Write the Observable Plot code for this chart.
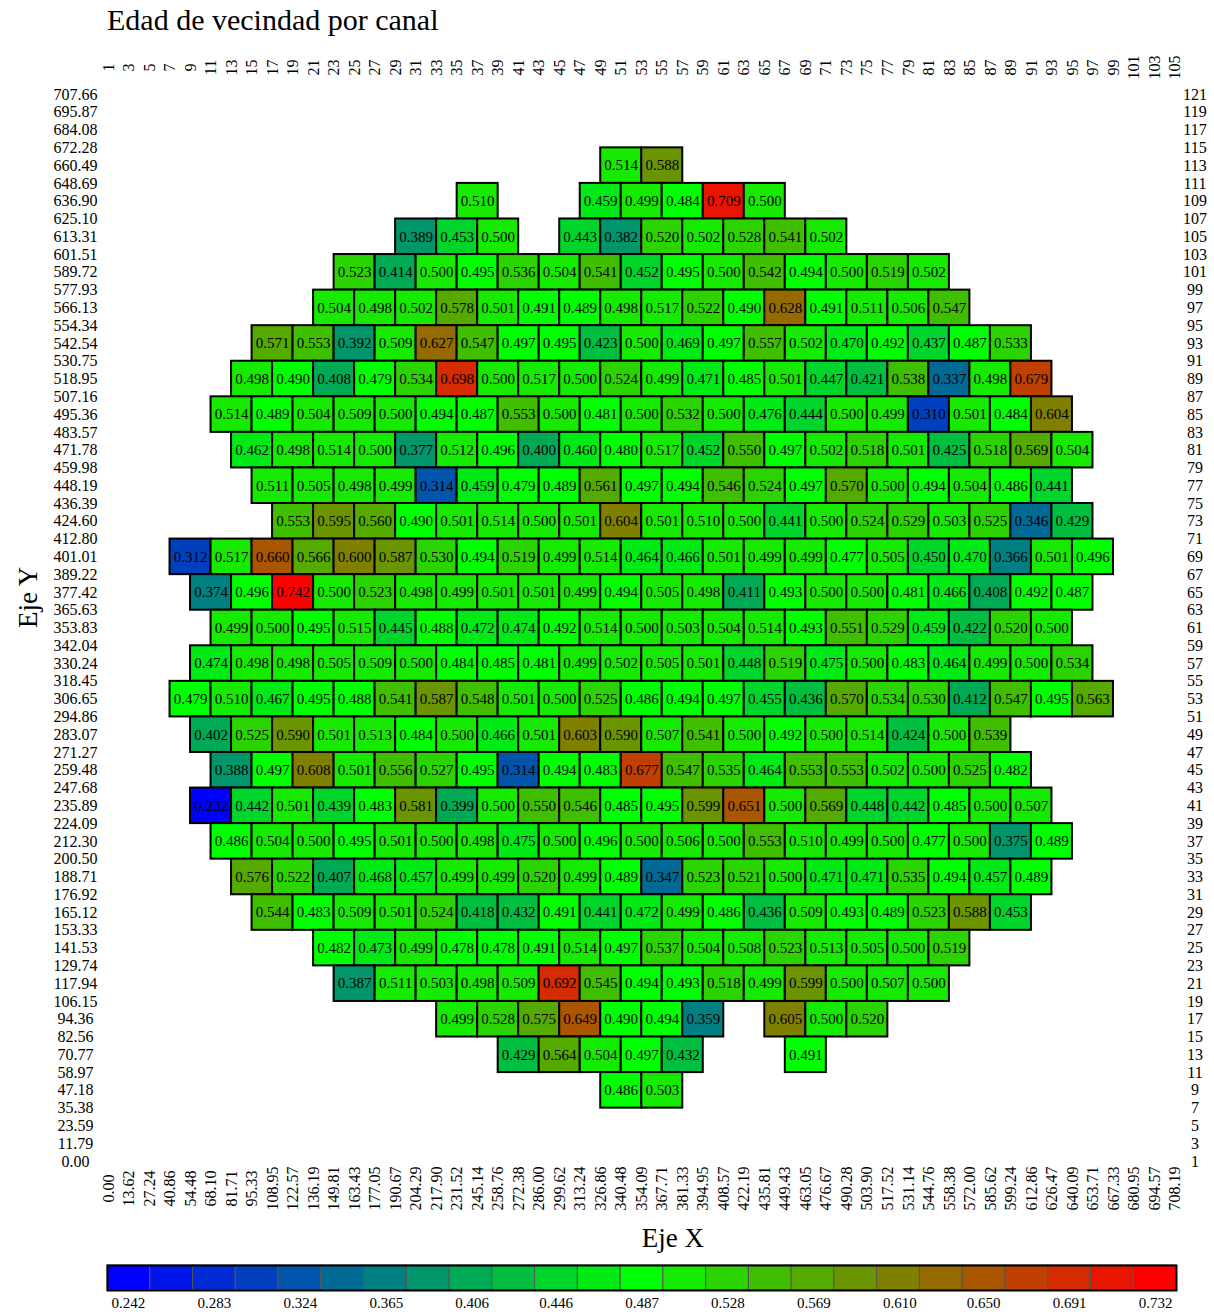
<!DOCTYPE html>
<html><head><meta charset="utf-8">
<script src="https://cdn.jsdelivr.net/npm/d3@7"></script>
<script src="https://cdn.jsdelivr.net/npm/@observablehq/plot@0.6"></script>
<style>
body{margin:0;background:#fff;font-family:"Liberation Serif","Times New Roman",serif;}
#title{height:50px;box-sizing:border-box;padding:5px 0 0 107px;font-size:30px;line-height:30px;color:#000;}
svg{display:block}
svg text{font-family:"Liberation Serif","Times New Roman",serif;}
</style></head><body>
<div id="title">Edad de vecindad por canal</div>
<div id="chart"></div>
<div id="bar"></div>
<script>
const titleText = "Edad de vecindad por canal";
const xLabel = "Eje X";
const yLabel = "Eje Y";

// top axis column indices and bottom axis positions (mm)
const colLabels = [1,3,5,7,9,11,13,15,17,19,21,23,25,27,29,31,33,35,37,39,41,43,45,47,49,51,53,55,57,59,61,63,65,67,69,71,73,75,77,79,81,83,85,87,89,91,93,95,97,99,101,103,105];
const xTickLabels = ["0.00","13.62","27.24","40.86","54.48","68.10","81.71","95.33","108.95","122.57","136.19","149.81","163.43","177.05","190.67","204.29","217.90","231.52","245.14","258.76","272.38","286.00","299.62","313.24","326.86","340.48","354.09","367.71","381.33","394.95","408.57","422.19","435.81","449.43","463.05","476.67","490.28","503.90","517.52","531.14","544.76","558.38","572.00","585.62","599.24","612.86","626.47","640.09","653.71","667.33","680.95","694.57","708.19"];
// right axis row indices and left axis positions (mm)
const rowLabels = [1,3,5,7,9,11,13,15,17,19,21,23,25,27,29,31,33,35,37,39,41,43,45,47,49,51,53,55,57,59,61,63,65,67,69,71,73,75,77,79,81,83,85,87,89,91,93,95,97,99,101,103,105,107,109,111,113,115,117,119,121];
const yTickLabels = ["0.00","11.79","23.59","35.38","47.18","58.97","70.77","82.56","94.36","106.15","117.94","129.74","141.53","153.33","165.12","176.92","188.71","200.50","212.30","224.09","235.89","247.68","259.48","271.27","283.07","294.86","306.65","318.45","330.24","342.04","353.83","365.63","377.42","389.22","401.01","412.80","424.60","436.39","448.19","459.98","471.78","483.57","495.36","507.16","518.95","530.75","542.54","554.34","566.13","577.93","589.72","601.51","613.31","625.10","636.90","648.69","660.49","672.28","684.08","695.87","707.66"];
const colorbarLabels = ["0.242","0.283","0.324","0.365","0.406","0.446","0.487","0.528","0.569","0.610","0.650","0.691","0.732"];

// channel values per row (row index on right axis, first column index on top axis); null = no channel
const rowIndex = [113,109,105,101,97,93,89,85,81,77,73,69,65,61,57,53,49,45,41,37,33,29,25,21,17,13,9];
const rowStartCol = [51,37,31,25,23,17,15,13,15,17,19,9,11,13,11,9,11,13,11,13,15,17,23,25,35,41,51];
const r113 = [0.514,0.588];
const r109 = [0.510,null,null,0.459,0.499,0.484,0.709,0.500];
const r105 = [0.389,0.453,0.500,null,0.443,0.382,0.520,0.502,0.528,0.541,0.502];
const r101 = [0.523,0.414,0.500,0.495,0.536,0.504,0.541,0.452,0.495,0.500,0.542,0.494,0.500,0.519,0.502];
const r97 = [0.504,0.498,0.502,0.578,0.501,0.491,0.489,0.498,0.517,0.522,0.490,0.628,0.491,0.511,0.506,0.547];
const r93 = [0.571,0.553,0.392,0.509,0.627,0.547,0.497,0.495,0.423,0.500,0.469,0.497,0.557,0.502,0.470,0.492,0.437,0.487,0.533];
const r89 = [0.498,0.490,0.408,0.479,0.534,0.698,0.500,0.517,0.500,0.524,0.499,0.471,0.485,0.501,0.447,0.421,0.538,0.337,0.498,0.679];
const r85 = [0.514,0.489,0.504,0.509,0.500,0.494,0.487,0.553,0.500,0.481,0.500,0.532,0.500,0.476,0.444,0.500,0.499,0.310,0.501,0.484,0.604];
const r81 = [0.462,0.498,0.514,0.500,0.377,0.512,0.496,0.400,0.460,0.480,0.517,0.452,0.550,0.497,0.502,0.518,0.501,0.425,0.518,0.569,0.504];
const r77 = [0.511,0.505,0.498,0.499,0.314,0.459,0.479,0.489,0.561,0.497,0.494,0.546,0.524,0.497,0.570,0.500,0.494,0.504,0.486,0.441];
const r73 = [0.553,0.595,0.560,0.490,0.501,0.514,0.500,0.501,0.604,0.501,0.510,0.500,0.441,0.500,0.524,0.529,0.503,0.525,0.346,0.429];
const r69 = [0.312,0.517,0.660,0.566,0.600,0.587,0.530,0.494,0.519,0.499,0.514,0.464,0.466,0.501,0.499,0.499,0.477,0.505,0.450,0.470,0.366,0.501,0.496];
const r65 = [0.374,0.496,0.742,0.500,0.523,0.498,0.499,0.501,0.501,0.499,0.494,0.505,0.498,0.411,0.493,0.500,0.500,0.481,0.466,0.408,0.492,0.487];
const r61 = [0.499,0.500,0.495,0.515,0.445,0.488,0.472,0.474,0.492,0.514,0.500,0.503,0.504,0.514,0.493,0.551,0.529,0.459,0.422,0.520,0.500];
const r57 = [0.474,0.498,0.498,0.505,0.509,0.500,0.484,0.485,0.481,0.499,0.502,0.505,0.501,0.448,0.519,0.475,0.500,0.483,0.464,0.499,0.500,0.534];
const r53 = [0.479,0.510,0.467,0.495,0.488,0.541,0.587,0.548,0.501,0.500,0.525,0.486,0.494,0.497,0.455,0.436,0.570,0.534,0.530,0.412,0.547,0.495,0.563];
const r49 = [0.402,0.525,0.590,0.501,0.513,0.484,0.500,0.466,0.501,0.603,0.590,0.507,0.541,0.500,0.492,0.500,0.514,0.424,0.500,0.539];
const r45 = [0.388,0.497,0.608,0.501,0.556,0.527,0.495,0.314,0.494,0.483,0.677,0.547,0.535,0.464,0.553,0.553,0.502,0.500,0.525,0.482];
const r41 = [0.232,0.442,0.501,0.439,0.483,0.581,0.399,0.500,0.550,0.546,0.485,0.495,0.599,0.651,0.500,0.569,0.448,0.442,0.485,0.500,0.507];
const r37 = [0.486,0.504,0.500,0.495,0.501,0.500,0.498,0.475,0.500,0.496,0.500,0.506,0.500,0.553,0.510,0.499,0.500,0.477,0.500,0.375,0.489];
const r33 = [0.576,0.522,0.407,0.468,0.457,0.499,0.499,0.520,0.499,0.489,0.347,0.523,0.521,0.500,0.471,0.471,0.535,0.494,0.457,0.489];
const r29 = [0.544,0.483,0.509,0.501,0.524,0.418,0.432,0.491,0.441,0.472,0.499,0.486,0.436,0.509,0.493,0.489,0.523,0.588,0.453];
const r25 = [0.482,0.473,0.499,0.478,0.478,0.491,0.514,0.497,0.537,0.504,0.508,0.523,0.513,0.505,0.500,0.519];
const r21 = [0.387,0.511,0.503,0.498,0.509,0.692,0.545,0.494,0.493,0.518,0.499,0.599,0.500,0.507,0.500];
const r17 = [0.499,0.528,0.575,0.649,0.490,0.494,0.359,null,0.605,0.500,0.520];
const r13 = [0.429,0.564,0.504,0.497,0.432,null,null,0.491];
const r9 = [0.486,0.503];
const rowValues = [r113,r109,r105,r101,r97,r93,r89,r85,r81,r77,r73,r69,r65,r61,r57,r53,r49,r45,r41,r37,r33,r29,r25,r21,r17,r13,r9];

const cells = rowIndex.flatMap((r, k) =>
  rowValues[k].map((v, j) => ({r, c: rowStartCol[k] + 4 * j, v})).filter(d => d.v != null));

const vmin = d3.min(cells, d => d.v), vmax = d3.max(cells, d => d.v);
const nBins = 25;
const step = (vmax - vmin) / nBins;
const thresholds = d3.range(1, nBins).map(i => vmin + i * step);
const ramp = d3.piecewise(d3.interpolateRgb, ["#0000ff", "#00ff00", "#ff0000"]);
const colors = d3.range(nBins).map(i => ramp(i / (nBins - 1)));
const colorScale = {type: "threshold", domain: thresholds, range: colors};

const xMap = new Map(colLabels.map((c, i) => [c, xTickLabels[i]]));
const yMap = new Map(rowLabels.map((r, i) => [r, yTickLabels[i]]));

const font = "Liberation Serif, Times New Roman, serif";

const chart = Plot.plot({
  width: 1214, height: 1205,
  marginTop: 44, marginBottom: 94, marginLeft: 108, marginRight: 39.5,
  x: {domain: [1, 105], axis: null},
  y: {domain: [1, 121], axis: null},
  color: colorScale,
  style: {fontFamily: font, fontSize: "16px", color: "black", background: "white"},
  marks: [
    Plot.axisX({anchor: "bottom", ticks: colLabels, tickFormat: d => xMap.get(d), tickRotate: -90, tickSize: 0, tickPadding: 27, textAnchor: "middle", lineAnchor: "middle", label: null, fontSize: 16, fontFamily: font}),
    Plot.axisX({anchor: "top", ticks: colLabels, tickFormat: d => String(d), tickRotate: -90, tickSize: 0, tickPadding: 27, textAnchor: "middle", lineAnchor: "middle", label: null, fontSize: 16, fontFamily: font}),
    Plot.axisY({anchor: "left", ticks: rowLabels, tickFormat: d => yMap.get(d), tickSize: 0, tickPadding: 33, textAnchor: "middle", label: null, fontSize: 16, fontFamily: font}),
    Plot.axisY({anchor: "right", ticks: rowLabels, tickFormat: d => String(d), tickSize: 0, tickPadding: 20, textAnchor: "middle", label: null, fontSize: 16, fontFamily: font}),
    Plot.rect(cells, {x1: d => d.c - 2, x2: d => d.c + 2, y1: d => d.r - 2, y2: d => d.r + 2, fill: "v", stroke: "black", strokeWidth: 2}),
    Plot.text(cells, {x: "c", y: "r", text: d => d.v.toFixed(3), fontSize: 15, fontFamily: font, fill: "black"}),
    Plot.text([xLabel], {text: d => d, frameAnchor: "bottom", textAnchor: "start", lineAnchor: "bottom", dy: 85, fontSize: 27, fontFamily: font}),
    Plot.text([yLabel], {text: d => d, frameAnchor: "left", textAnchor: "start", lineAnchor: "bottom", rotate: -90, dx: -72, fontSize: 27, fontFamily: font})
  ]
});
document.getElementById("chart").append(chart);

const bins = d3.range(nBins).map(i => ({x1: vmin + i * step, x2: vmin + (i + 1) * step, v: vmin + (i + 0.5) * step}));
const cbMap = new Map(colorbarLabels.map(s => [Number(s), s]));
const bar = Plot.plot({
  width: 1214, height: 60,
  marginTop: 10, marginBottom: 25, marginLeft: 107, marginRight: 38,
  x: {domain: [vmin, vmax], axis: null},
  color: colorScale,
  style: {fontFamily: font, fontSize: "15px", color: "black", background: "white"},
  marks: [
    Plot.rect(bins, {x1: "x1", x2: "x2", fill: "v", stroke: "#555", strokeWidth: 1}),
    Plot.frame({stroke: "black", strokeWidth: 2}),
    Plot.axisX({anchor: "bottom", ticks: colorbarLabels.map(Number), tickFormat: d => cbMap.get(d), tickSize: 0, tickPadding: 7, label: null, fontSize: 15, fontFamily: font})
  ]
});
document.getElementById("bar").append(bar);
</script></body></html>
